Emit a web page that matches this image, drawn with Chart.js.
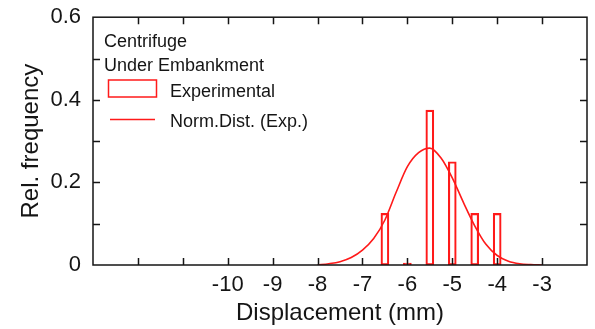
<!DOCTYPE html>
<html>
<head>
<meta charset="utf-8">
<script src="https://cdn.jsdelivr.net/npm/chart.js@4"></script>
<style>
  html, body { margin: 0; padding: 0; background: #fff; }
</style>
</head>
<body>
<canvas id="chart" width="595" height="329"></canvas>
<script>
// Histogram: bin centres (mm) and relative frequency
const binCenters = [-6.5, -6, -5.5, -5, -4.5, -4];
const relFreq = [0.125, 0, 0.375, 0.25, 0.125, 0.125];

// Normal distribution curve (Exp.)
const curveX = [-8, -7.75, -7.5, -7.25, -7, -6.75, -6.5, -6.25, -6, -5.75, -5.5,
                -5.25, -5, -4.75, -4.5, -4.25, -4, -3.75, -3.5, -3.25, -3];
const curveY = [0, 0.003, 0.008, 0.018, 0.036, 0.064, 0.109, 0.176, 0.238, 0.272, 0.283,
                0.259, 0.211, 0.151, 0.095, 0.050, 0.023, 0.009, 0.003, 0.001, 0];

// Tick labels shown on the axes
const xTickLabels = [-10, -9, -8, -7, -6, -5, -4, -3];
const yTickLabels = [0, 0.2, 0.4, 0.6];

const RED = '#ff1a1a';
const INK = '#151515';
Chart.defaults.font.family = '"Liberation Sans", Arial, sans-serif';
Chart.defaults.color = INK;

// frame with inward ticks + legend box inside the plot
const framePlugin = {
  id: 'frame',
  afterDraw(chart) {
    const ctx = chart.ctx;
    const a = chart.chartArea;
    const xs = chart.scales.x, ys = chart.scales.y;
    const len = 7;
    ctx.save();
    ctx.strokeStyle = INK;
    ctx.lineWidth = 1.5;
    ctx.strokeRect(a.left, a.top, a.right - a.left, a.bottom - a.top);
    ctx.beginPath();
    xs.ticks.forEach(t => {
      if (t.value <= xs.min || t.value >= xs.max) return;
      const px = Math.round(xs.getPixelForValue(t.value)) + 0.5;
      ctx.moveTo(px, a.bottom); ctx.lineTo(px, a.bottom - len);
      ctx.moveTo(px, a.top); ctx.lineTo(px, a.top + len);
    });
    ys.ticks.forEach(t => {
      if (t.value <= ys.min || t.value >= ys.max) return;
      const py = Math.round(ys.getPixelForValue(t.value)) + 0.5;
      ctx.moveTo(a.left, py); ctx.lineTo(a.left + len, py);
      ctx.moveTo(a.right, py); ctx.lineTo(a.right - len, py);
    });
    ctx.stroke();

    // legend
    ctx.fillStyle = INK;
    ctx.font = '18px "Liberation Sans", Arial, sans-serif';
    ctx.textBaseline = 'alphabetic';
    ctx.fillText('Centrifuge', 104, 47);
    ctx.fillText('Under Embankment', 104, 71);
    ctx.fillText('Experimental', 170, 97);
    ctx.fillText('Norm.Dist. (Exp.)', 170, 127);
    ctx.strokeStyle = RED;
    ctx.lineWidth = 1.5;
    ctx.strokeRect(108.5, 80, 48, 17);
    ctx.beginPath();
    ctx.moveTo(110, 119.5); ctx.lineTo(155, 119.5);
    ctx.stroke();
    ctx.restore();
  }
};

new Chart(document.getElementById('chart'), {
  type: 'bar',
  data: {
    datasets: [
      {
        label: 'Experimental',
        data: binCenters.map((x, i) => ({ x: x, y: relFreq[i] })),
        backgroundColor: 'rgba(0,0,0,0)',
        borderColor: RED,
        borderWidth: 1.5,
        borderSkipped: false,
        barThickness: 8,
        minBarLength: 2
      },
      {
        type: 'line',
        label: 'Norm.Dist. (Exp.)',
        data: curveX.map((x, i) => ({ x: x, y: curveY[i] })),
        borderColor: RED,
        borderWidth: 1.6,
        pointRadius: 0,
        fill: false,
        cubicInterpolationMode: 'monotone'
      }
    ]
  },
  options: {
    responsive: false,
    animation: false,
    layout: { padding: { left: 0, right: 8, top: 17, bottom: 0 } },
    plugins: { legend: { display: false }, tooltip: { enabled: false } },
    scales: {
      x: {
        type: 'linear',
        min: -13,
        max: -2,
        offset: false,
        grid: { display: false },
        border: { display: false },
        ticks: {
          stepSize: 1,
          autoSkip: false,
          maxRotation: 0,
          padding: -1,
          font: { size: 22 },
          color: INK,
          callback: v => xTickLabels.includes(v) ? String(v) : ''
        },
        title: {
          display: true,
          text: 'Displacement (mm)',
          font: { size: 24 },
          color: INK,
          padding: { top: 0, bottom: 1 }
        },
        afterFit: s => { s.height = 64; }
      },
      y: {
        min: 0,
        max: 0.6,
        grid: { display: false },
        border: { display: false },
        ticks: {
          stepSize: 0.1,
          padding: 4,
          font: { size: 22 },
          color: INK,
          callback: v => {
            const r = Math.round(v * 10) / 10;
            return yTickLabels.includes(r) ? String(r) : '';
          }
        },
        title: {
          display: true,
          text: 'Rel. frequency',
          font: { size: 24 },
          color: INK,
          padding: { top: 17, bottom: 0 }
        },
        afterFit: s => { s.width = 93; }
      }
    }
  },
  plugins: [framePlugin]
});
</script>
</body>
</html>
